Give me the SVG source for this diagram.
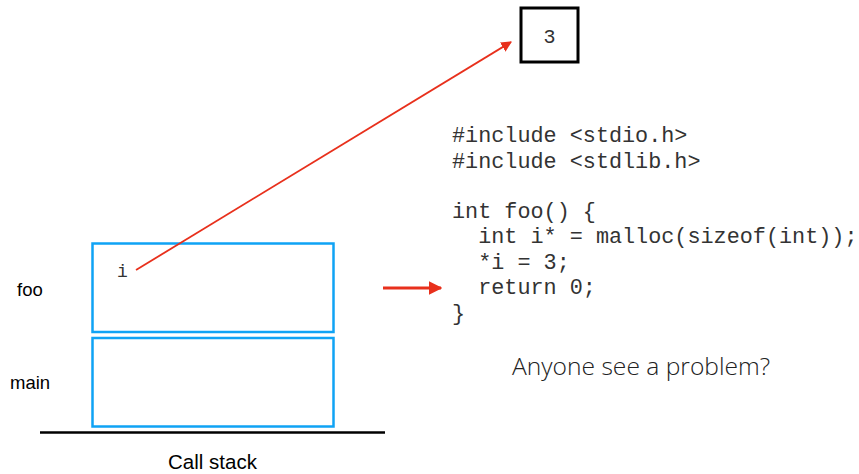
<svg xmlns="http://www.w3.org/2000/svg" width="859" height="474" viewBox="0 0 859 474">
<style>
.code{font-family:"Liberation Mono","Courier New",monospace;font-size:21.8px;fill:#333}
.lbl{font-family:"Liberation Sans",Arial,sans-serif;fill:#000}
.frame{fill:none;stroke:#0fa3f5;stroke-width:2.5}
.red{stroke:#e8301c;fill:none}
</style>
<defs>
<marker id="ah" viewBox="0 0 10 10" refX="9" refY="5" markerWidth="6" markerHeight="6" markerUnits="strokeWidth" orient="auto"><path d="M0,0 L10,5 L0,10 z" fill="#e8301c"/></marker>
<marker id="ah2" viewBox="0 0 10 10" refX="9" refY="5" markerWidth="4.5" markerHeight="4.5" markerUnits="strokeWidth" orient="auto"><path d="M0,0 L10,5 L0,10 z" fill="#e8301c"/></marker>
</defs>
<rect width="859" height="474" fill="#fff"/>
<g id="heap-cell">
<rect x="521" y="8" width="57" height="54" fill="#fff" stroke="#000" stroke-width="3"/>
<text x="549.5" y="43" class="code" text-anchor="middle" style="font-size:20px">3</text>
</g>
<g id="frame-foo">
<rect class="frame" x="92.5" y="243.5" width="241" height="88.5"/>
<text x="117" y="277" class="code" style="font-size:18px">i</text>
<text x="17" y="296" class="lbl" font-size="18.5">foo</text>
</g>
<g id="frame-main">
<rect class="frame" x="92.5" y="338" width="241" height="88.5"/>
<text x="10" y="389" class="lbl" font-size="18.5">main</text>
</g>
<g id="stack-base">
<line x1="40" y1="432.5" x2="385" y2="432.5" stroke="#000" stroke-width="2.5"/>
<text x="212.5" y="469" class="lbl" font-size="20.5" text-anchor="middle">Call stack</text>
</g>
<g id="code">
<text class="code" x="452" y="142">#include &lt;stdio.h&gt;</text>
<text class="code" x="452" y="168">#include &lt;stdlib.h&gt;</text>
<text class="code" x="452" y="218">int foo() {</text>
<text class="code" x="452" y="243" xml:space="preserve">  int i* = malloc(sizeof(int));</text>
<text class="code" x="452" y="269" xml:space="preserve">  *i = 3;</text>
<text class="code" x="452" y="294" xml:space="preserve">  return 0;</text>
<text class="code" x="452" y="320">}</text>
</g>
<g id="question">
<text x="512" y="375" font-family="'Open Sans','Noto Sans',sans-serif" font-weight="300" font-size="24.6" fill="#222">Anyone see a problem?</text>
</g>
<g id="connectors">
<line class="red" x1="136" y1="270" x2="511" y2="42" stroke-width="1.8" marker-end="url(#ah)"/>
<line class="red" x1="383" y1="288" x2="441" y2="288" stroke-width="3" marker-end="url(#ah2)"/>
</g>
</svg>
